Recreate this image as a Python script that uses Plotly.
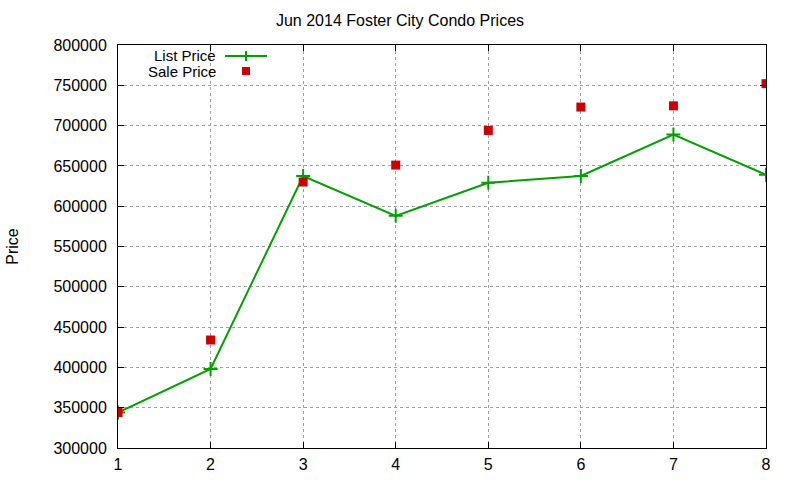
import plotly.graph_objects as go

months = [1, 2, 3, 4, 5, 6, 7, 8]
list_price = [344000, 398000, 637500, 588000, 629000, 637500, 689000, 639000]
sale_price = [344000, 434000, 630000, 651000, 694000, 723000, 724500, 752000]
x_ticks = [1, 2, 3, 4, 5, 6, 7, 8]
y_ticks = [300000, 350000, 400000, 450000, 500000, 550000, 600000, 650000, 700000, 750000, 800000]

FONT = "Liberation Sans, Arial, sans-serif"
GREEN = "#00a000"
RED = "#cc0000"

fig = go.Figure()
fig.add_trace(go.Scatter(
    x=months, y=list_price, name="List Price", mode="lines+markers",
    line=dict(color=GREEN, width=2),
    marker=dict(symbol="cross-thin", size=10, line=dict(color=GREEN, width=2), color=GREEN),
))
fig.add_trace(go.Scatter(
    x=months, y=sale_price, name="Sale Price", mode="markers",
    marker=dict(symbol="square", size=9, color=RED),
))

axis_common = dict(
    showline=True, linecolor="black", linewidth=1, mirror="allticks",
    ticks="inside", ticklen=6, tickcolor="black", tickwidth=1,
    showgrid=True, gridcolor="#a0a0a0", gridwidth=1, griddash="dot",
    zeroline=False, automargin=False,
    tickfont=dict(family=FONT, size=16, color="black"),
)

fig.update_xaxes(range=[1, 8], tickvals=x_ticks, ticktext=[str(v) for v in x_ticks],
                 ticklabelstandoff=2, **axis_common)
fig.update_yaxes(range=[300000, 800000], tickvals=y_ticks, ticktext=[str(v) for v in y_ticks],
                 ticklabelstandoff=7,
                 title=dict(text="Price", font=dict(family=FONT, size=16, color="black"), standoff=30),
                 **axis_common)

# gnuplot-style key: text right-aligned, sample to the right
def px(x):
    return (x - 118) / 648

def py(y):
    return (448 - y) / 403

annotations = [
    dict(text="List Price", x=px(218), y=py(55), xref="paper", yref="paper",
         xanchor="right", yanchor="middle", showarrow=False, height=15,
         font=dict(family=FONT, size=15, color="black")),
    dict(text="Sale Price", x=px(218), y=py(72), xref="paper", yref="paper",
         xanchor="right", yanchor="middle", showarrow=False, height=15,
         font=dict(family=FONT, size=15, color="black")),
]
shapes = [
    dict(type="line", xref="paper", yref="paper", x0=px(225), x1=px(267), y0=py(56), y1=py(56),
         line=dict(color=GREEN, width=2)),
    dict(type="line", xref="paper", yref="paper", x0=px(246), x1=px(246), y0=py(51), y1=py(61),
         line=dict(color=GREEN, width=2)),
    dict(type="rect", xref="paper", yref="paper", x0=px(242), x1=px(250), y0=py(67), y1=py(75),
         line=dict(width=0), fillcolor=RED),
]

fig.update_layout(
    width=800, height=480,
    margin=dict(l=118, r=34, t=45, b=32, autoexpand=False),
    paper_bgcolor="white", plot_bgcolor="white",
    title=dict(text="Jun 2014 Foster City Condo Prices", x=0.5, xanchor="center",
               y=1 - 20 / 480, yanchor="middle",
               font=dict(family=FONT, size=16, color="black")),
    font=dict(family=FONT, size=16, color="black"),
    showlegend=False,
    annotations=annotations,
    shapes=shapes,
)

fig.write_html("out.html", config={"displayModeBar": False},
               post_script="document.body.style.margin='0';document.body.style.overflow='hidden';")
